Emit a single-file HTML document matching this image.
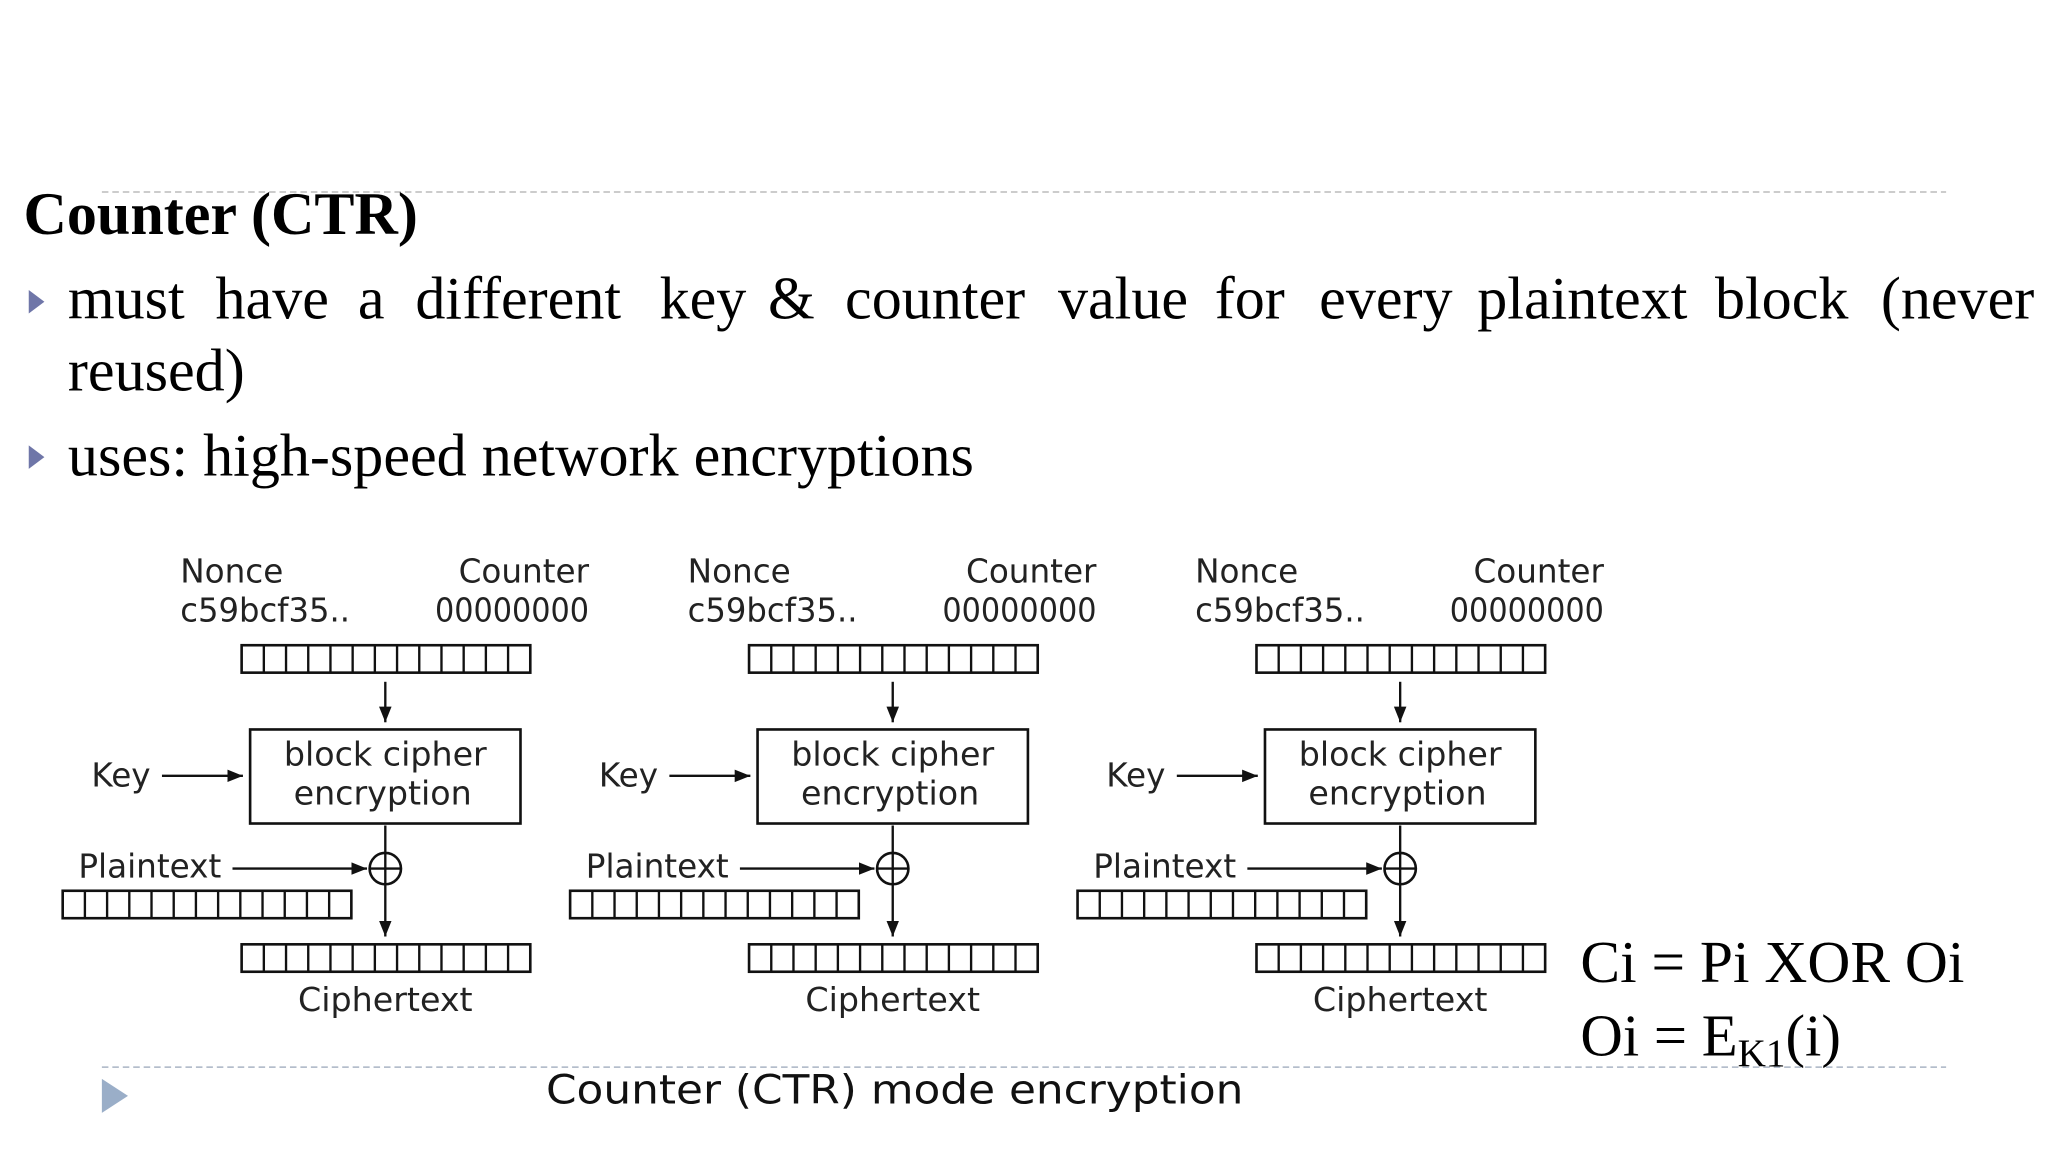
<!DOCTYPE html>
<html><head><meta charset="utf-8"><style>
html,body{margin:0;padding:0;background:#fff;}
svg{display:block;}
</style></head><body>
<svg width="2048" height="1152" viewBox="0 0 1568 882" xmlns="http://www.w3.org/2000/svg">
<defs>
<marker id="ah" viewBox="0 0 10 10" refX="10" refY="5" markerWidth="12" markerHeight="12" markerUnits="userSpaceOnUse" orient="auto"><path d="M0,1 L10,5 L0,9 z" fill="#111"/></marker>
<g id="reg">
<rect x="0" y="0" width="221" height="21" fill="none" stroke="#111" stroke-width="2"/>
<path d="M17,0v21M34,0v21M51,0v21M68,0v21M85,0v21M102,0v21M119,0v21M136,0v21M153,0v21M170,0v21M187,0v21M204,0v21" stroke="#111" stroke-width="1.8"/>
</g>
<g id="unit" font-family="DejaVu Sans, sans-serif" fill="#222">
<text x="138" y="446" font-size="25" fill="#222">Nonce</text>
<text x="451" y="446" font-size="25" text-anchor="end" fill="#222">Counter</text>
<text x="138" y="476" font-size="25" textLength="130" lengthAdjust="spacingAndGlyphs" fill="#222">c59bcf35..</text>
<text x="451" y="476" font-size="25" text-anchor="end" textLength="118" lengthAdjust="spacingAndGlyphs" fill="#222">00000000</text>
<use href="#reg" x="185" y="494"/>
<line x1="295" y1="522" x2="295" y2="553" stroke="#111" stroke-width="1.8" marker-end="url(#ah)"/>
<rect x="191.5" y="558.5" width="207" height="72" fill="none" stroke="#111" stroke-width="2"/>
<text x="295" y="586" font-size="25.5" text-anchor="middle" fill="#222">block cipher</text>
<text x="293" y="616" font-size="25.5" text-anchor="middle" fill="#222">encryption</text>
<text x="70" y="602" font-size="25" fill="#222">Key</text>
<line x1="124" y1="594" x2="186" y2="594" stroke="#111" stroke-width="1.8" marker-end="url(#ah)"/>
<text x="60" y="672" font-size="25" fill="#222">Plaintext</text>
<line x1="178" y1="665" x2="281" y2="665" stroke="#111" stroke-width="1.8" marker-end="url(#ah)"/>
<circle cx="295" cy="665" r="12" fill="none" stroke="#111" stroke-width="2"/>
<line x1="283" y1="665" x2="307" y2="665" stroke="#111" stroke-width="1.8"/>
<line x1="295" y1="632" x2="295" y2="717" stroke="#111" stroke-width="1.8" marker-end="url(#ah)"/>
<use href="#reg" x="48" y="682"/>
<use href="#reg" x="185" y="723"/>
<text x="295" y="774" font-size="25.5" text-anchor="middle" fill="#222">Ciphertext</text>
</g>
</defs>
<line x1="78" y1="147" x2="1490" y2="147" stroke="#bbb" stroke-width="1.2" stroke-dasharray="5,3"/>
<line x1="78" y1="817" x2="1490" y2="817" stroke="#a9b4c4" stroke-width="1.2" stroke-dasharray="5,3"/>
<g font-family="Liberation Serif, serif" fill="#000">
<text x="18" y="179" font-size="46" font-weight="bold">Counter (CTR)</text>
<g font-size="46">
<text x="52" y="244">must</text>
<text x="165" y="244">have</text>
<text x="274" y="244">a</text>
<text x="318" y="244">different</text>
<text x="505" y="244">key</text>
<text x="588" y="244">&amp;</text>
<text x="647" y="244">counter</text>
<text x="810" y="244">value</text>
<text x="930" y="244">for</text>
<text x="1010" y="244">every</text>
<text x="1131" y="244">plaintext</text>
<text x="1313" y="244">block</text>
<text x="1440" y="244">(never</text>
<text x="52" y="299">reused)</text>
<text x="52" y="364">uses: high-speed network encryptions</text>
</g>
<text x="1210" y="752" font-size="45" textLength="294" lengthAdjust="spacingAndGlyphs">Ci = Pi XOR Oi</text>
<text x="1210" y="808" font-size="45">Oi = E<tspan font-size="30" dy="8">K1</tspan><tspan dy="-8">(i)</tspan></text>
</g>
<path d="M22,222 L34,231 L22,240 z" fill="#6f76a8"/>
<path d="M22,341 L34,350 L22,359 z" fill="#6f76a8"/>
<path d="M78,826 L98,839 L78,852 z" fill="#9aaec8"/>
<use href="#unit" x="0" y="0"/>
<use href="#unit" x="388.5" y="0"/>
<use href="#unit" x="777" y="0"/>
<text x="685" y="845" font-family="DejaVu Sans, sans-serif" font-size="31" text-anchor="middle" fill="#111" textLength="534" lengthAdjust="spacingAndGlyphs">Counter (CTR) mode encryption</text>
</svg>
</body></html>
